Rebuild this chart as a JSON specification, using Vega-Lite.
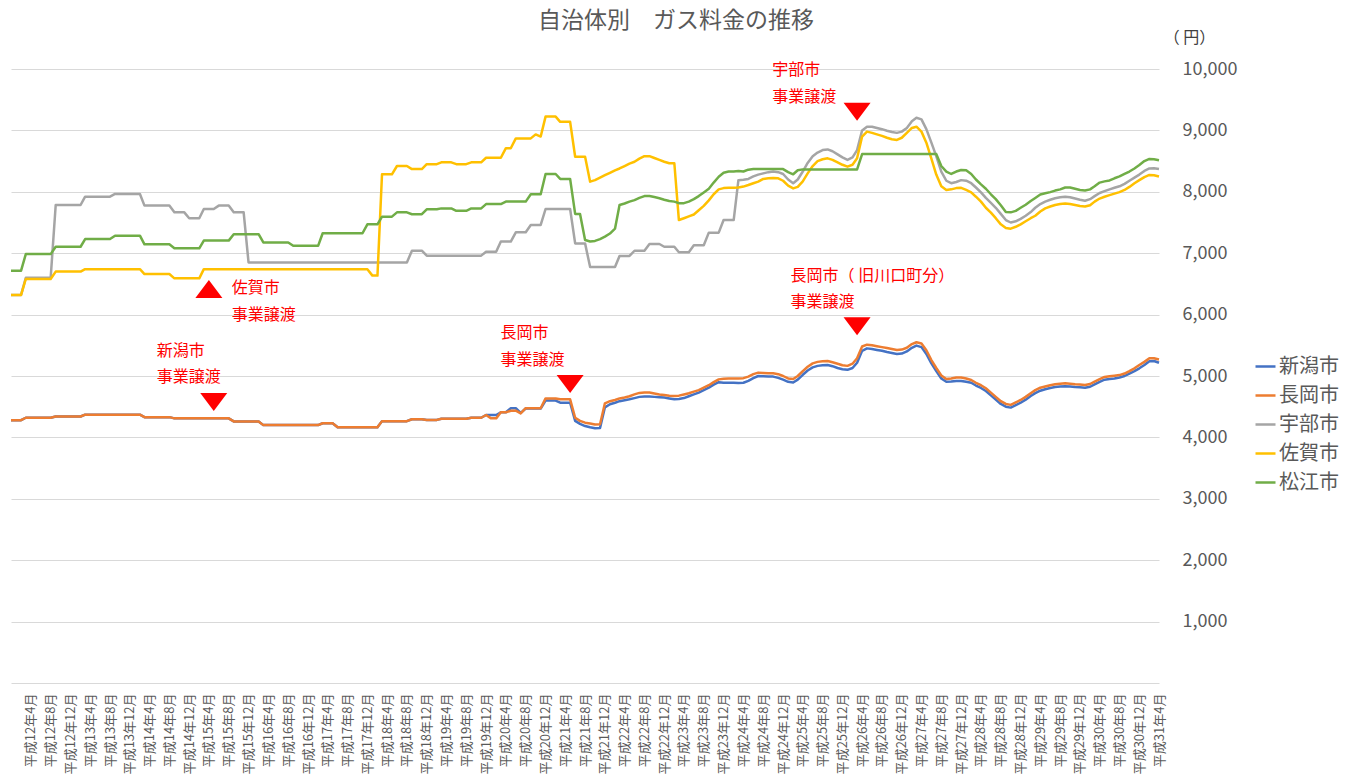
{
  "$schema": "https://vega.github.io/schema/vega-lite/v6.json",
  "autosize": "none",
  "width": 1148,
  "height": 614,
  "padding": {"left": 11, "top": 69, "right": 198, "bottom": 95},
  "background": "#ffffff",
  "config": {"view": {"stroke": null}, "font": "Noto Sans CJK JP"},
  "title": {"text": "自治体別　ガス料金の推移", "fontSize": 23, "color": "#595959", "fontWeight": "normal", "font": "Noto Sans CJK JP", "anchor": "middle", "dx": 91, "offset": 14, "dy": 18},
  "layer": [
    {
      "data": {"values": [
        {"d":"1999-12-01","新潟市":4280,"長岡市":4280,"宇部市":6320,"佐賀市":6320,"松江市":6715},
        {"d":"2000-01-01","新潟市":4280,"長岡市":4280,"宇部市":6320,"佐賀市":6320,"松江市":6715},
        {"d":"2000-02-01","新潟市":4280,"長岡市":4280,"宇部市":6320,"佐賀市":6320,"松江市":6715},
        {"d":"2000-03-01","新潟市":4320,"長岡市":4320,"宇部市":6600,"佐賀市":6580,"松江市":6985},
        {"d":"2000-04-01","新潟市":4320,"長岡市":4320,"宇部市":6600,"佐賀市":6580,"松江市":6985},
        {"d":"2000-05-01","新潟市":4320,"長岡市":4320,"宇部市":6600,"佐賀市":6580,"松江市":6985},
        {"d":"2000-06-01","新潟市":4320,"長岡市":4320,"宇部市":6600,"佐賀市":6580,"松江市":6985},
        {"d":"2000-07-01","新潟市":4320,"長岡市":4320,"宇部市":6600,"佐賀市":6580,"松江市":6985},
        {"d":"2000-08-01","新潟市":4320,"長岡市":4320,"宇部市":6600,"佐賀市":6580,"松江市":6985},
        {"d":"2000-09-01","新潟市":4340,"長岡市":4340,"宇部市":7785,"佐賀市":6700,"松江市":7105},
        {"d":"2000-10-01","新潟市":4340,"長岡市":4340,"宇部市":7785,"佐賀市":6700,"松江市":7105},
        {"d":"2000-11-01","新潟市":4340,"長岡市":4340,"宇部市":7785,"佐賀市":6700,"松江市":7105},
        {"d":"2000-12-01","新潟市":4340,"長岡市":4340,"宇部市":7785,"佐賀市":6700,"松江市":7105},
        {"d":"2001-01-01","新潟市":4340,"長岡市":4340,"宇部市":7785,"佐賀市":6700,"松江市":7105},
        {"d":"2001-02-01","新潟市":4340,"長岡市":4340,"宇部市":7785,"佐賀市":6700,"松江市":7105},
        {"d":"2001-03-01","新潟市":4370,"長岡市":4370,"宇部市":7920,"佐賀市":6740,"松江市":7230},
        {"d":"2001-04-01","新潟市":4370,"長岡市":4370,"宇部市":7920,"佐賀市":6740,"松江市":7230},
        {"d":"2001-05-01","新潟市":4370,"長岡市":4370,"宇部市":7920,"佐賀市":6740,"松江市":7230},
        {"d":"2001-06-01","新潟市":4370,"長岡市":4370,"宇部市":7920,"佐賀市":6740,"松江市":7230},
        {"d":"2001-07-01","新潟市":4370,"長岡市":4370,"宇部市":7920,"佐賀市":6740,"松江市":7230},
        {"d":"2001-08-01","新潟市":4370,"長岡市":4370,"宇部市":7920,"佐賀市":6740,"松江市":7230},
        {"d":"2001-09-01","新潟市":4370,"長岡市":4370,"宇部市":7965,"佐賀市":6740,"松江市":7285},
        {"d":"2001-10-01","新潟市":4370,"長岡市":4370,"宇部市":7965,"佐賀市":6740,"松江市":7285},
        {"d":"2001-11-01","新潟市":4370,"長岡市":4370,"宇部市":7965,"佐賀市":6740,"松江市":7285},
        {"d":"2001-12-01","新潟市":4370,"長岡市":4370,"宇部市":7965,"佐賀市":6740,"松江市":7285},
        {"d":"2002-01-01","新潟市":4370,"長岡市":4370,"宇部市":7965,"佐賀市":6740,"松江市":7285},
        {"d":"2002-02-01","新潟市":4370,"長岡市":4370,"宇部市":7965,"佐賀市":6740,"松江市":7285},
        {"d":"2002-03-01","新潟市":4330,"長岡市":4330,"宇部市":7775,"佐賀市":6660,"松江市":7145},
        {"d":"2002-04-01","新潟市":4330,"長岡市":4330,"宇部市":7775,"佐賀市":6660,"松江市":7145},
        {"d":"2002-05-01","新潟市":4330,"長岡市":4330,"宇部市":7775,"佐賀市":6660,"松江市":7145},
        {"d":"2002-06-01","新潟市":4330,"長岡市":4330,"宇部市":7775,"佐賀市":6660,"松江市":7145},
        {"d":"2002-07-01","新潟市":4330,"長岡市":4330,"宇部市":7775,"佐賀市":6660,"松江市":7145},
        {"d":"2002-08-01","新潟市":4330,"長岡市":4330,"宇部市":7775,"佐賀市":6660,"松江市":7145},
        {"d":"2002-09-01","新潟市":4310,"長岡市":4310,"宇部市":7665,"佐賀市":6590,"松江市":7080},
        {"d":"2002-10-01","新潟市":4310,"長岡市":4310,"宇部市":7665,"佐賀市":6590,"松江市":7080},
        {"d":"2002-11-01","新潟市":4310,"長岡市":4310,"宇部市":7665,"佐賀市":6590,"松江市":7080},
        {"d":"2002-12-01","新潟市":4310,"長岡市":4310,"宇部市":7570,"佐賀市":6590,"松江市":7080},
        {"d":"2003-01-01","新潟市":4310,"長岡市":4310,"宇部市":7570,"佐賀市":6590,"松江市":7080},
        {"d":"2003-02-01","新潟市":4310,"長岡市":4310,"宇部市":7570,"佐賀市":6590,"松江市":7080},
        {"d":"2003-03-01","新潟市":4310,"長岡市":4310,"宇部市":7720,"佐賀市":6740,"松江市":7205},
        {"d":"2003-04-01","新潟市":4310,"長岡市":4310,"宇部市":7720,"佐賀市":6740,"松江市":7205},
        {"d":"2003-05-01","新潟市":4310,"長岡市":4310,"宇部市":7720,"佐賀市":6740,"松江市":7205},
        {"d":"2003-06-01","新潟市":4310,"長岡市":4310,"宇部市":7775,"佐賀市":6740,"松江市":7205},
        {"d":"2003-07-01","新潟市":4310,"長岡市":4310,"宇部市":7775,"佐賀市":6740,"松江市":7205},
        {"d":"2003-08-01","新潟市":4310,"長岡市":4310,"宇部市":7775,"佐賀市":6740,"松江市":7205},
        {"d":"2003-09-01","新潟市":4260,"長岡市":4260,"宇部市":7665,"佐賀市":6740,"松江市":7310},
        {"d":"2003-10-01","新潟市":4260,"長岡市":4260,"宇部市":7665,"佐賀市":6740,"松江市":7310},
        {"d":"2003-11-01","新潟市":4260,"長岡市":4260,"宇部市":7665,"佐賀市":6740,"松江市":7310},
        {"d":"2003-12-01","新潟市":4260,"長岡市":4260,"宇部市":6850,"佐賀市":6740,"松江市":7310},
        {"d":"2004-01-01","新潟市":4260,"長岡市":4260,"宇部市":6850,"佐賀市":6740,"松江市":7310},
        {"d":"2004-02-01","新潟市":4260,"長岡市":4260,"宇部市":6850,"佐賀市":6740,"松江市":7310},
        {"d":"2004-03-01","新潟市":4200,"長岡市":4200,"宇部市":6850,"佐賀市":6740,"松江市":7175},
        {"d":"2004-04-01","新潟市":4200,"長岡市":4200,"宇部市":6850,"佐賀市":6740,"松江市":7175},
        {"d":"2004-05-01","新潟市":4200,"長岡市":4200,"宇部市":6850,"佐賀市":6740,"松江市":7175},
        {"d":"2004-06-01","新潟市":4200,"長岡市":4200,"宇部市":6850,"佐賀市":6740,"松江市":7175},
        {"d":"2004-07-01","新潟市":4200,"長岡市":4200,"宇部市":6850,"佐賀市":6740,"松江市":7175},
        {"d":"2004-08-01","新潟市":4200,"長岡市":4200,"宇部市":6850,"佐賀市":6740,"松江市":7175},
        {"d":"2004-09-01","新潟市":4200,"長岡市":4200,"宇部市":6850,"佐賀市":6740,"松江市":7120},
        {"d":"2004-10-01","新潟市":4200,"長岡市":4200,"宇部市":6850,"佐賀市":6740,"松江市":7120},
        {"d":"2004-11-01","新潟市":4200,"長岡市":4200,"宇部市":6850,"佐賀市":6740,"松江市":7120},
        {"d":"2004-12-01","新潟市":4200,"長岡市":4200,"宇部市":6850,"佐賀市":6740,"松江市":7120},
        {"d":"2005-01-01","新潟市":4200,"長岡市":4200,"宇部市":6850,"佐賀市":6740,"松江市":7120},
        {"d":"2005-02-01","新潟市":4200,"長岡市":4200,"宇部市":6850,"佐賀市":6740,"松江市":7120},
        {"d":"2005-03-01","新潟市":4230,"長岡市":4230,"宇部市":6850,"佐賀市":6740,"松江市":7325},
        {"d":"2005-04-01","新潟市":4230,"長岡市":4230,"宇部市":6850,"佐賀市":6740,"松江市":7325},
        {"d":"2005-05-01","新潟市":4230,"長岡市":4230,"宇部市":6850,"佐賀市":6740,"松江市":7325},
        {"d":"2005-06-01","新潟市":4165,"長岡市":4165,"宇部市":6850,"佐賀市":6740,"松江市":7325},
        {"d":"2005-07-01","新潟市":4165,"長岡市":4165,"宇部市":6850,"佐賀市":6740,"松江市":7325},
        {"d":"2005-08-01","新潟市":4165,"長岡市":4165,"宇部市":6850,"佐賀市":6740,"松江市":7325},
        {"d":"2005-09-01","新潟市":4165,"長岡市":4165,"宇部市":6850,"佐賀市":6740,"松江市":7325},
        {"d":"2005-10-01","新潟市":4165,"長岡市":4165,"宇部市":6850,"佐賀市":6740,"松江市":7325},
        {"d":"2005-11-01","新潟市":4165,"長岡市":4165,"宇部市":6850,"佐賀市":6740,"松江市":7325},
        {"d":"2005-12-01","新潟市":4165,"長岡市":4165,"宇部市":6850,"佐賀市":6740,"松江市":7470},
        {"d":"2006-01-01","新潟市":4165,"長岡市":4165,"宇部市":6850,"佐賀市":6635,"松江市":7470},
        {"d":"2006-02-01","新潟市":4165,"長岡市":4165,"宇部市":6850,"佐賀市":6635,"松江市":7470},
        {"d":"2006-03-01","新潟市":4265,"長岡市":4265,"宇部市":6850,"佐賀市":8285,"松江市":7595},
        {"d":"2006-04-01","新潟市":4265,"長岡市":4265,"宇部市":6850,"佐賀市":8285,"松江市":7595},
        {"d":"2006-05-01","新潟市":4265,"長岡市":4265,"宇部市":6850,"佐賀市":8285,"松江市":7595},
        {"d":"2006-06-01","新潟市":4265,"長岡市":4265,"宇部市":6850,"佐賀市":8420,"松江市":7665},
        {"d":"2006-07-01","新潟市":4265,"長岡市":4265,"宇部市":6850,"佐賀市":8420,"松江市":7665},
        {"d":"2006-08-01","新潟市":4265,"長岡市":4265,"宇部市":6850,"佐賀市":8420,"松江市":7665},
        {"d":"2006-09-01","新潟市":4295,"長岡市":4295,"宇部市":7040,"佐賀市":8370,"松江市":7635},
        {"d":"2006-10-01","新潟市":4295,"長岡市":4295,"宇部市":7040,"佐賀市":8370,"松江市":7635},
        {"d":"2006-11-01","新潟市":4295,"長岡市":4295,"宇部市":7040,"佐賀市":8370,"松江市":7635},
        {"d":"2006-12-01","新潟市":4285,"長岡市":4285,"宇部市":6960,"佐賀市":8450,"松江市":7715},
        {"d":"2007-01-01","新潟市":4285,"長岡市":4285,"宇部市":6960,"佐賀市":8450,"松江市":7715},
        {"d":"2007-02-01","新潟市":4285,"長岡市":4285,"宇部市":6960,"佐賀市":8450,"松江市":7715},
        {"d":"2007-03-01","新潟市":4305,"長岡市":4305,"宇部市":6960,"佐賀市":8480,"松江市":7730},
        {"d":"2007-04-01","新潟市":4305,"長岡市":4305,"宇部市":6960,"佐賀市":8480,"松江市":7730},
        {"d":"2007-05-01","新潟市":4305,"長岡市":4305,"宇部市":6960,"佐賀市":8480,"松江市":7730},
        {"d":"2007-06-01","新潟市":4305,"長岡市":4305,"宇部市":6960,"佐賀市":8450,"松江市":7690},
        {"d":"2007-07-01","新潟市":4305,"長岡市":4305,"宇部市":6960,"佐賀市":8450,"松江市":7690},
        {"d":"2007-08-01","新潟市":4305,"長岡市":4305,"宇部市":6960,"佐賀市":8450,"松江市":7690},
        {"d":"2007-09-01","新潟市":4320,"長岡市":4320,"宇部市":6960,"佐賀市":8480,"松江市":7730},
        {"d":"2007-10-01","新潟市":4320,"長岡市":4320,"宇部市":6960,"佐賀市":8480,"松江市":7730},
        {"d":"2007-11-01","新潟市":4320,"長岡市":4320,"宇部市":6960,"佐賀市":8480,"松江市":7730},
        {"d":"2007-12-01","新潟市":4365,"長岡市":4365,"宇部市":7025,"佐賀市":8555,"松江市":7800},
        {"d":"2008-01-01","新潟市":4365,"長岡市":4310,"宇部市":7025,"佐賀市":8555,"松江市":7800},
        {"d":"2008-02-01","新潟市":4365,"長岡市":4310,"宇部市":7025,"佐賀市":8555,"松江市":7800},
        {"d":"2008-03-01","新潟市":4410,"長岡市":4410,"宇部市":7190,"佐賀市":8555,"松江市":7800},
        {"d":"2008-04-01","新潟市":4410,"長岡市":4410,"宇部市":7190,"佐賀市":8710,"松江市":7840},
        {"d":"2008-05-01","新潟市":4475,"長岡市":4435,"宇部市":7190,"佐賀市":8710,"松江市":7840},
        {"d":"2008-06-01","新潟市":4475,"長岡市":4435,"宇部市":7340,"佐賀市":8870,"松江市":7840},
        {"d":"2008-07-01","新潟市":4400,"長岡市":4390,"宇部市":7340,"佐賀市":8870,"松江市":7840},
        {"d":"2008-08-01","新潟市":4470,"長岡市":4475,"宇部市":7340,"佐賀市":8870,"松江市":7840},
        {"d":"2008-09-01","新潟市":4470,"長岡市":4475,"宇部市":7460,"佐賀市":8870,"松江市":7960},
        {"d":"2008-10-01","新潟市":4470,"長岡市":4475,"宇部市":7460,"佐賀市":8935,"松江市":7960},
        {"d":"2008-11-01","新潟市":4470,"長岡市":4475,"宇部市":7460,"佐賀市":8900,"松江市":7960},
        {"d":"2008-12-01","新潟市":4600,"長岡市":4635,"宇部市":7720,"佐賀市":9225,"松江市":8290},
        {"d":"2009-01-01","新潟市":4600,"長岡市":4635,"宇部市":7720,"佐賀市":9225,"松江市":8290},
        {"d":"2009-02-01","新潟市":4600,"長岡市":4635,"宇部市":7720,"佐賀市":9225,"松江市":8290},
        {"d":"2009-03-01","新潟市":4565,"長岡市":4620,"宇部市":7720,"佐賀市":9140,"松江市":8210},
        {"d":"2009-04-01","新潟市":4565,"長岡市":4620,"宇部市":7720,"佐賀市":9140,"松江市":8210},
        {"d":"2009-05-01","新潟市":4565,"長岡市":4620,"宇部市":7720,"佐賀市":9140,"松江市":8210},
        {"d":"2009-06-01","新潟市":4270,"長岡市":4320,"宇部市":7160,"佐賀市":8570,"松江市":7640},
        {"d":"2009-07-01","新潟市":4220,"長岡市":4270,"宇部市":7160,"佐賀市":8570,"松江市":7640},
        {"d":"2009-08-01","新潟市":4185,"長岡市":4240,"宇部市":7160,"佐賀市":8570,"松江市":7215},
        {"d":"2009-09-01","新潟市":4165,"長岡市":4225,"宇部市":6775,"佐賀市":8165,"松江市":7190},
        {"d":"2009-10-01","新潟市":4150,"長岡市":4210,"宇部市":6775,"佐賀市":8190,"松江市":7200},
        {"d":"2009-11-01","新潟市":4155,"長岡市":4215,"宇部市":6775,"佐賀市":8230,"松江市":7230},
        {"d":"2009-12-01","新潟市":4490,"長岡市":4555,"宇部市":6775,"佐賀市":8270,"松江市":7270},
        {"d":"2010-01-01","新潟市":4540,"長岡市":4590,"宇部市":6775,"佐賀市":8310,"松江市":7320},
        {"d":"2010-02-01","新潟市":4565,"長岡市":4610,"宇部市":6775,"佐賀市":8350,"松江市":7400},
        {"d":"2010-03-01","新潟市":4590,"長岡市":4635,"宇部市":6955,"佐賀市":8380,"松江市":7785},
        {"d":"2010-04-01","新潟市":4605,"長岡市":4650,"宇部市":6955,"佐賀市":8420,"松江市":7810},
        {"d":"2010-05-01","新潟市":4620,"長岡市":4670,"宇部市":6955,"佐賀市":8460,"松江市":7840},
        {"d":"2010-06-01","新潟市":4640,"長岡市":4700,"宇部市":7040,"佐賀市":8490,"松江市":7865},
        {"d":"2010-07-01","新潟市":4660,"長岡市":4725,"宇部市":7040,"佐賀市":8540,"松江市":7900},
        {"d":"2010-08-01","新潟市":4665,"長岡市":4730,"宇部市":7040,"佐賀市":8580,"松江市":7930},
        {"d":"2010-09-01","新潟市":4665,"長岡市":4730,"宇部市":7150,"佐賀市":8580,"松江市":7930},
        {"d":"2010-10-01","新潟市":4660,"長岡市":4715,"宇部市":7150,"佐賀市":8550,"松江市":7915},
        {"d":"2010-11-01","新潟市":4655,"長岡市":4700,"宇部市":7150,"佐賀市":8520,"松江市":7895},
        {"d":"2010-12-01","新潟市":4650,"長岡市":4690,"宇部市":7105,"佐賀市":8490,"松江市":7870},
        {"d":"2011-01-01","新潟市":4635,"長岡市":4680,"宇部市":7105,"佐賀市":8465,"松江市":7850},
        {"d":"2011-02-01","新潟市":4620,"長岡市":4675,"宇部市":7105,"佐賀市":8465,"松江市":7840},
        {"d":"2011-03-01","新潟市":4625,"長岡市":4680,"宇部市":7015,"佐賀市":7540,"松江市":7815},
        {"d":"2011-04-01","新潟市":4640,"長岡市":4700,"宇部市":7015,"佐賀市":7570,"松江市":7815},
        {"d":"2011-05-01","新潟市":4670,"長岡市":4720,"宇部市":7015,"佐賀市":7600,"松江市":7840},
        {"d":"2011-06-01","新潟市":4700,"長岡市":4745,"宇部市":7130,"佐賀市":7630,"松江市":7880},
        {"d":"2011-07-01","新潟市":4730,"長岡市":4770,"宇部市":7130,"佐賀市":7700,"松江市":7930},
        {"d":"2011-08-01","新潟市":4770,"長岡市":4810,"宇部市":7130,"佐賀市":7770,"松江市":7990},
        {"d":"2011-09-01","新潟市":4810,"長岡市":4850,"宇部市":7335,"佐賀市":7860,"松江市":8050},
        {"d":"2011-10-01","新潟市":4860,"長岡市":4900,"宇部市":7335,"佐賀市":7960,"松江市":8150},
        {"d":"2011-11-01","新潟市":4900,"長岡市":4945,"宇部市":7335,"佐賀市":8040,"松江市":8245},
        {"d":"2011-12-01","新潟市":4890,"長岡市":4955,"宇部市":7540,"佐賀市":8060,"松江市":8310},
        {"d":"2012-01-01","新潟市":4890,"長岡市":4960,"宇部市":7540,"佐賀市":8065,"松江市":8330},
        {"d":"2012-02-01","新潟市":4890,"長岡市":4960,"宇部市":7540,"佐賀市":8065,"松江市":8330},
        {"d":"2012-03-01","新潟市":4885,"長岡市":4960,"宇部市":8190,"佐賀市":8070,"松江市":8340},
        {"d":"2012-04-01","新潟市":4890,"長岡市":4965,"宇部市":8195,"佐賀市":8085,"松江市":8330},
        {"d":"2012-05-01","新潟市":4920,"長岡市":4990,"宇部市":8210,"佐賀市":8110,"松江市":8360},
        {"d":"2012-06-01","新潟市":4965,"長岡市":5030,"宇部市":8250,"佐賀市":8140,"松江市":8370},
        {"d":"2012-07-01","新潟市":5000,"長岡市":5055,"宇部市":8280,"佐賀市":8165,"松江市":8370},
        {"d":"2012-08-01","新潟市":4995,"長岡市":5050,"宇部市":8300,"佐賀市":8210,"松江市":8370},
        {"d":"2012-09-01","新潟市":4990,"長岡市":5045,"宇部市":8320,"佐賀市":8220,"松江市":8370},
        {"d":"2012-10-01","新潟市":4990,"長岡市":5045,"宇部市":8330,"佐賀市":8225,"松江市":8370},
        {"d":"2012-11-01","新潟市":4970,"長岡市":5030,"宇部市":8320,"佐賀市":8220,"松江市":8370},
        {"d":"2012-12-01","新潟市":4940,"長岡市":5000,"宇部市":8290,"佐賀市":8180,"松江市":8370},
        {"d":"2013-01-01","新潟市":4905,"長岡市":4960,"宇部市":8200,"佐賀市":8100,"松江市":8320},
        {"d":"2013-02-01","新潟市":4895,"長岡市":4950,"宇部市":8140,"佐賀市":8055,"松江市":8285},
        {"d":"2013-03-01","新潟市":4940,"長岡市":5000,"宇部市":8200,"佐賀市":8080,"松江市":8350},
        {"d":"2013-04-01","新潟市":5020,"長岡市":5080,"宇部市":8330,"佐賀市":8170,"松江市":8365},
        {"d":"2013-05-01","新潟市":5090,"長岡市":5150,"宇部市":8470,"佐賀市":8300,"松江市":8365},
        {"d":"2013-06-01","新潟市":5140,"長岡市":5205,"宇部市":8580,"佐賀市":8420,"松江市":8365},
        {"d":"2013-07-01","新潟市":5165,"長岡市":5230,"宇部市":8640,"佐賀市":8500,"松江市":8365},
        {"d":"2013-08-01","新潟市":5175,"長岡市":5240,"宇部市":8680,"佐賀市":8530,"松江市":8365},
        {"d":"2013-09-01","新潟市":5180,"長岡市":5245,"宇部市":8690,"佐賀市":8545,"松江市":8365},
        {"d":"2013-10-01","新潟市":5160,"長岡市":5225,"宇部市":8660,"佐賀市":8520,"松江市":8365},
        {"d":"2013-11-01","新潟市":5130,"長岡市":5200,"宇部市":8610,"佐賀市":8480,"松江市":8365},
        {"d":"2013-12-01","新潟市":5110,"長岡市":5175,"宇部市":8560,"佐賀市":8440,"松江市":8365},
        {"d":"2014-01-01","新潟市":5100,"長岡市":5165,"宇部市":8520,"佐賀市":8410,"松江市":8365},
        {"d":"2014-02-01","新潟市":5130,"長岡市":5200,"宇部市":8560,"佐賀市":8440,"松江市":8365},
        {"d":"2014-03-01","新潟市":5215,"長岡市":5290,"宇部市":8680,"佐賀市":8545,"松江市":8365},
        {"d":"2014-04-01","新潟市":5410,"長岡市":5480,"宇部市":9000,"佐賀市":8900,"松江市":8615},
        {"d":"2014-05-01","新潟市":5450,"長岡市":5510,"宇部市":9060,"佐賀市":8980,"松江市":8615},
        {"d":"2014-06-01","新潟市":5440,"長岡市":5500,"宇部市":9060,"佐賀市":8960,"松江市":8615},
        {"d":"2014-07-01","新潟市":5425,"長岡市":5485,"宇部市":9040,"佐賀市":8935,"松江市":8615},
        {"d":"2014-08-01","新潟市":5410,"長岡市":5470,"宇部市":9020,"佐賀市":8910,"松江市":8615},
        {"d":"2014-09-01","新潟市":5390,"長岡市":5455,"宇部市":8995,"佐賀市":8880,"松江市":8615},
        {"d":"2014-10-01","新潟市":5375,"長岡市":5440,"宇部市":8975,"佐賀市":8855,"松江市":8615},
        {"d":"2014-11-01","新潟市":5360,"長岡市":5425,"宇部市":8960,"佐賀市":8845,"松江市":8615},
        {"d":"2014-12-01","新潟市":5365,"長岡市":5430,"宇部市":8980,"佐賀市":8880,"松江市":8615},
        {"d":"2015-01-01","新潟市":5400,"長岡市":5460,"宇部市":9040,"佐賀市":8960,"松江市":8615},
        {"d":"2015-02-01","新潟市":5460,"長岡市":5520,"宇部市":9150,"佐賀市":9040,"松江市":8615},
        {"d":"2015-03-01","新潟市":5495,"長岡市":5550,"宇部市":9205,"佐賀市":9060,"松江市":8615},
        {"d":"2015-04-01","新潟市":5470,"長岡市":5530,"宇部市":9180,"佐賀市":8980,"松江市":8615},
        {"d":"2015-05-01","新潟市":5360,"長岡市":5420,"宇部市":9020,"佐賀市":8800,"松江市":8615},
        {"d":"2015-06-01","新潟市":5205,"長岡市":5260,"宇部市":8800,"佐賀市":8540,"松江市":8615},
        {"d":"2015-07-01","新潟市":5080,"長岡市":5130,"宇部市":8580,"佐賀市":8280,"松江市":8615},
        {"d":"2015-08-01","新潟市":4960,"長岡市":5010,"宇部市":8330,"佐賀市":8090,"松江市":8420},
        {"d":"2015-09-01","新潟市":4905,"長岡市":4950,"宇部市":8180,"佐賀市":8030,"松江市":8330},
        {"d":"2015-10-01","新潟市":4910,"長岡市":4960,"宇部市":8140,"佐賀市":8040,"松江市":8290},
        {"d":"2015-11-01","新潟市":4920,"長岡市":4975,"宇部市":8160,"佐賀市":8060,"松江市":8330},
        {"d":"2015-12-01","新潟市":4920,"長岡市":4975,"宇部市":8190,"佐賀市":8065,"松江市":8355},
        {"d":"2016-01-01","新潟市":4905,"長岡市":4960,"宇部市":8180,"佐賀市":8030,"松江市":8350},
        {"d":"2016-02-01","新潟市":4890,"長岡市":4935,"宇部市":8140,"佐賀市":7990,"松江市":8290},
        {"d":"2016-03-01","新潟市":4845,"長岡市":4890,"宇部市":8070,"佐賀市":7920,"松江市":8200},
        {"d":"2016-04-01","新潟市":4805,"長岡市":4850,"宇部市":7990,"佐賀市":7840,"松江市":8120},
        {"d":"2016-05-01","新潟市":4755,"長岡市":4800,"宇部市":7900,"佐賀市":7740,"松江市":8050},
        {"d":"2016-06-01","新潟市":4685,"長岡市":4730,"宇部市":7820,"佐賀市":7660,"松江市":7960},
        {"d":"2016-07-01","新潟市":4615,"長岡市":4660,"宇部市":7740,"佐賀市":7570,"松江市":7880},
        {"d":"2016-08-01","新潟市":4545,"長岡市":4590,"宇部市":7640,"佐賀市":7470,"松江市":7780},
        {"d":"2016-09-01","新潟市":4500,"長岡市":4545,"宇部市":7540,"佐賀市":7410,"松江市":7670},
        {"d":"2016-10-01","新潟市":4485,"長岡市":4530,"宇部市":7500,"佐賀市":7400,"松江市":7665},
        {"d":"2016-11-01","新潟市":4525,"長岡市":4570,"宇部市":7520,"佐賀市":7430,"松江市":7690},
        {"d":"2016-12-01","新潟市":4565,"長岡市":4610,"宇部市":7560,"佐賀市":7470,"松江市":7740},
        {"d":"2017-01-01","新潟市":4615,"長岡市":4660,"宇部市":7610,"佐賀市":7520,"松江市":7790},
        {"d":"2017-02-01","新潟市":4675,"長岡市":4720,"宇部市":7670,"佐賀市":7570,"松江市":7850},
        {"d":"2017-03-01","新潟市":4720,"長岡市":4770,"宇部市":7740,"佐賀市":7610,"松江市":7900},
        {"d":"2017-04-01","新潟市":4760,"長岡市":4810,"宇部市":7800,"佐賀市":7680,"松江市":7955},
        {"d":"2017-05-01","新潟市":4785,"長岡市":4830,"宇部市":7840,"佐賀市":7730,"松江市":7975},
        {"d":"2017-06-01","新潟市":4805,"長岡市":4850,"宇部市":7870,"佐賀市":7760,"松江市":7995},
        {"d":"2017-07-01","新潟市":4820,"長岡市":4865,"宇部市":7895,"佐賀市":7785,"松江市":8020},
        {"d":"2017-08-01","新潟市":4830,"長岡市":4875,"宇部市":7910,"佐賀市":7800,"松江市":8040},
        {"d":"2017-09-01","新潟市":4835,"長岡市":4880,"宇部市":7920,"佐賀市":7810,"松江市":8070},
        {"d":"2017-10-01","新潟市":4830,"長岡市":4875,"宇部市":7910,"佐賀市":7800,"松江市":8070},
        {"d":"2017-11-01","新潟市":4820,"長岡市":4865,"宇部市":7890,"佐賀市":7785,"松江市":8050},
        {"d":"2017-12-01","新潟市":4815,"長岡市":4860,"宇部市":7870,"佐賀市":7770,"松江市":8030},
        {"d":"2018-01-01","新潟市":4810,"長岡市":4855,"宇部市":7855,"佐賀市":7760,"松江市":8020},
        {"d":"2018-02-01","新潟市":4825,"長岡市":4870,"宇部市":7880,"佐賀市":7780,"松江市":8040},
        {"d":"2018-03-01","新潟市":4865,"長岡市":4910,"宇部市":7930,"佐賀市":7840,"松江市":8090},
        {"d":"2018-04-01","新潟市":4905,"長岡市":4950,"宇部市":7980,"佐賀市":7890,"松江市":8150},
        {"d":"2018-05-01","新潟市":4940,"長岡市":4985,"宇部市":8010,"佐賀市":7920,"松江市":8170},
        {"d":"2018-06-01","新潟市":4950,"長岡市":4995,"宇部市":8040,"佐賀市":7945,"松江市":8185},
        {"d":"2018-07-01","新潟市":4960,"長岡市":5005,"宇部市":8065,"佐賀市":7970,"松江市":8220},
        {"d":"2018-08-01","新潟市":4975,"長岡市":5015,"宇部市":8090,"佐賀市":7995,"松江市":8250},
        {"d":"2018-09-01","新潟市":5000,"長岡市":5040,"宇部市":8130,"佐賀市":8030,"松江市":8290},
        {"d":"2018-10-01","新潟市":5040,"長岡市":5080,"宇部市":8180,"佐賀市":8080,"松江市":8330},
        {"d":"2018-11-01","新潟市":5080,"長岡市":5125,"宇部市":8230,"佐賀市":8140,"松江市":8380},
        {"d":"2018-12-01","新潟市":5125,"長岡市":5180,"宇部市":8280,"佐賀市":8190,"松江市":8435},
        {"d":"2019-01-01","新潟市":5180,"長岡市":5230,"宇部市":8340,"佐賀市":8240,"松江市":8500},
        {"d":"2019-02-01","新潟市":5240,"長岡市":5290,"宇部市":8380,"佐賀市":8275,"松江市":8535},
        {"d":"2019-03-01","新潟市":5245,"長岡市":5290,"宇部市":8385,"佐賀市":8270,"松江市":8530},
        {"d":"2019-04-01","新潟市":5215,"長岡市":5270,"宇部市":8370,"佐賀市":8250,"松江市":8515}
      ]},
      "transform": [{"fold": ["新潟市", "長岡市", "宇部市", "佐賀市", "松江市"], "as": ["市", "料金"]}],
      "mark": {"type": "line", "strokeWidth": 2.5, "strokeJoin": "round"},
      "encoding": {
        "x": {
          "field": "d", "type": "temporal",
          "scale": {"type": "utc", "domain": [{"year": 1999, "month": 12, "date": 1, "utc": true}, {"year": 2019, "month": 4, "date": 1, "utc": true}], "nice": false},
          "axis": {
            "title": null, "grid": false, "ticks": false, "tickCount": 100,
            "domain": true, "domainColor": "#D9D9D9", "domainWidth": 1,
            "labelAngle": -90, "labelFontSize": 13, "labelColor": "#595959", "labelFont": "Noto Sans CJK JP",
            "labelPadding": 10, "labelOverlap": false, "labelFlush": false, "labelBound": false,
            "labelExpr": "'平成' + (utcyear(datum.value) - 1988) + '年' + (utcmonth(datum.value) + 1) + '月'",
            "values": [
              {"year":2000,"month":4,"date":1,"utc":true},{"year":2000,"month":8,"date":1,"utc":true},{"year":2000,"month":12,"date":1,"utc":true},
              {"year":2001,"month":4,"date":1,"utc":true},{"year":2001,"month":8,"date":1,"utc":true},{"year":2001,"month":12,"date":1,"utc":true},
              {"year":2002,"month":4,"date":1,"utc":true},{"year":2002,"month":8,"date":1,"utc":true},{"year":2002,"month":12,"date":1,"utc":true},
              {"year":2003,"month":4,"date":1,"utc":true},{"year":2003,"month":8,"date":1,"utc":true},{"year":2003,"month":12,"date":1,"utc":true},
              {"year":2004,"month":4,"date":1,"utc":true},{"year":2004,"month":8,"date":1,"utc":true},{"year":2004,"month":12,"date":1,"utc":true},
              {"year":2005,"month":4,"date":1,"utc":true},{"year":2005,"month":8,"date":1,"utc":true},{"year":2005,"month":12,"date":1,"utc":true},
              {"year":2006,"month":4,"date":1,"utc":true},{"year":2006,"month":8,"date":1,"utc":true},{"year":2006,"month":12,"date":1,"utc":true},
              {"year":2007,"month":4,"date":1,"utc":true},{"year":2007,"month":8,"date":1,"utc":true},{"year":2007,"month":12,"date":1,"utc":true},
              {"year":2008,"month":4,"date":1,"utc":true},{"year":2008,"month":8,"date":1,"utc":true},{"year":2008,"month":12,"date":1,"utc":true},
              {"year":2009,"month":4,"date":1,"utc":true},{"year":2009,"month":8,"date":1,"utc":true},{"year":2009,"month":12,"date":1,"utc":true},
              {"year":2010,"month":4,"date":1,"utc":true},{"year":2010,"month":8,"date":1,"utc":true},{"year":2010,"month":12,"date":1,"utc":true},
              {"year":2011,"month":4,"date":1,"utc":true},{"year":2011,"month":8,"date":1,"utc":true},{"year":2011,"month":12,"date":1,"utc":true},
              {"year":2012,"month":4,"date":1,"utc":true},{"year":2012,"month":8,"date":1,"utc":true},{"year":2012,"month":12,"date":1,"utc":true},
              {"year":2013,"month":4,"date":1,"utc":true},{"year":2013,"month":8,"date":1,"utc":true},{"year":2013,"month":12,"date":1,"utc":true},
              {"year":2014,"month":4,"date":1,"utc":true},{"year":2014,"month":8,"date":1,"utc":true},{"year":2014,"month":12,"date":1,"utc":true},
              {"year":2015,"month":4,"date":1,"utc":true},{"year":2015,"month":8,"date":1,"utc":true},{"year":2015,"month":12,"date":1,"utc":true},
              {"year":2016,"month":4,"date":1,"utc":true},{"year":2016,"month":8,"date":1,"utc":true},{"year":2016,"month":12,"date":1,"utc":true},
              {"year":2017,"month":4,"date":1,"utc":true},{"year":2017,"month":8,"date":1,"utc":true},{"year":2017,"month":12,"date":1,"utc":true},
              {"year":2018,"month":4,"date":1,"utc":true},{"year":2018,"month":8,"date":1,"utc":true},{"year":2018,"month":12,"date":1,"utc":true},
              {"year":2019,"month":4,"date":1,"utc":true}
            ]
          }
        },
        "y": {
          "field": "料金", "type": "quantitative",
          "scale": {"domain": [0, 10000], "nice": false},
          "axis": {
            "orient": "right", "values": [1000, 2000, 3000, 4000, 5000, 6000, 7000, 8000, 9000, 10000],
            "format": ",.0f", "grid": true, "gridColor": "#D9D9D9", "gridWidth": 1,
            "domain": false, "ticks": false, "labelPadding": 23, "labelAlign": "left",
            "labelFontSize": 18, "labelColor": "#595959", "labelFont": "Noto Sans CJK JP",
            "title": "（ 円）", "titleAngle": 0, "titleX": 30, "titleY": -32, "titleAlign": "center", "titleBaseline": "middle",
            "titleFontSize": 16, "titleFontWeight": "normal", "titleColor": "#404040", "titleFont": "Noto Sans CJK JP"
          }
        },
        "color": {
          "field": "市", "type": "nominal",
          "scale": {"domain": ["新潟市", "長岡市", "宇部市", "佐賀市", "松江市"], "range": ["#4472C4", "#ED7D31", "#A5A5A5", "#FFC000", "#70AD47"]},
          "legend": {
            "title": null, "orient": "none", "legendX": 1243, "legendY": 286, "padding": 0,
            "symbolType": "stroke", "symbolSize": 400, "symbolStrokeWidth": 2.5,
            "labelFontSize": 20, "labelColor": "#595959", "labelFont": "Noto Sans CJK JP", "labelOffset": 2,
            "rowPadding": 7
          }
        }
      }
    },
    {
      "data": {"values": [
        {"d": "2003-04-01", "v": 6417, "dir": "up"},
        {"d": "2003-05-01", "v": 4577, "dir": "down"},
        {"d": "2009-05-01", "v": 4870, "dir": "down"},
        {"d": "2014-03-01", "v": 9305, "dir": "down"},
        {"d": "2014-03-01", "v": 5809, "dir": "down"}
      ]},
      "mark": {"type": "point", "filled": true, "color": "#FF0000", "opacity": 1, "size": 729, "strokeWidth": 0},
      "encoding": {
        "x": {"field": "d", "type": "temporal"},
        "y": {"field": "v", "type": "quantitative"},
        "shape": {"field": "dir", "type": "nominal", "scale": {"domain": ["up", "down"], "range": ["M0,-0.667L1,0.667L-1,0.667Z", "M-1,-0.667L1,-0.667L0,0.667Z"]}, "legend": null}
      }
    },
    {
      "data": {"values": [
        {"d": "2003-08-20", "v": 6428, "t": "佐賀市"},
        {"d": "2003-08-20", "v": 5993, "t": "事業譲渡"},
        {"d": "2002-05-16", "v": 5407, "t": "新潟市"},
        {"d": "2002-05-16", "v": 4984, "t": "事業譲渡"},
        {"d": "2008-02-28", "v": 5700, "t": "長岡市"},
        {"d": "2008-02-28", "v": 5265, "t": "事業譲渡"},
        {"d": "2012-09-25", "v": 9984, "t": "宇部市"},
        {"d": "2012-09-25", "v": 9544, "t": "事業譲渡"},
        {"d": "2013-01-16", "v": 6629, "t": "長岡市（ 旧川口町分）"},
        {"d": "2013-01-16", "v": 6210, "t": "事業譲渡"}
      ]},
      "mark": {"type": "text", "align": "left", "baseline": "middle", "fontSize": 16, "color": "#FF0000", "font": "Noto Sans CJK JP"},
      "encoding": {
        "x": {"field": "d", "type": "temporal"},
        "y": {"field": "v", "type": "quantitative"},
        "text": {"field": "t", "type": "nominal"}
      }
    }
  ]
}
